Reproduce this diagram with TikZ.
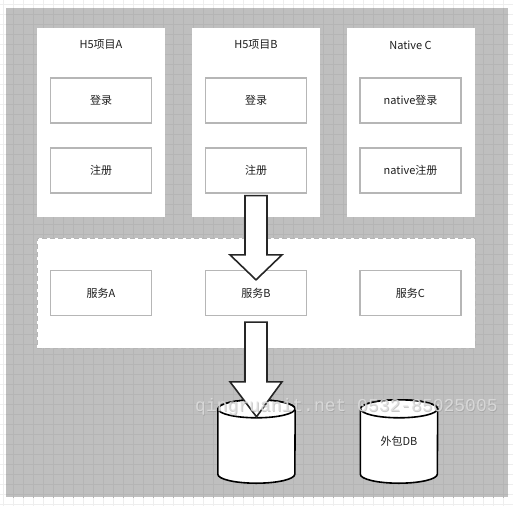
\documentclass[tikz,border=0pt]{standalone}
\usepackage{fontspec}
\setmainfont{Noto Sans CJK SC}
\newfontfamily\wmfont{Liberation Mono}
\usetikzlibrary{calc}
\definecolor{bggray}{RGB}{191,191,191}
\definecolor{gridlight}{RGB}{238,238,238}
\definecolor{griddark}{RGB}{181,181,181}
\definecolor{itemline}{RGB}{182,182,182}
\definecolor{txt}{RGB}{30,30,30}
\definecolor{wmlight}{RGB}{222,222,222}
\definecolor{wmshade}{RGB}{150,150,150}
\tikzset{
  projbox/.style={fill=white, draw=none, minimum width=128pt, minimum height=189pt, inner sep=0pt},
  projtitle/.style={font=\fontsize{11}{13}\selectfont, text=txt, inner sep=0pt},
  itembox/.style={fill=white, draw=itemline, line width=1.3pt, minimum width=101pt, minimum height=45pt, inner sep=0pt, font=\fontsize{11}{13}\selectfont, text=txt},
  svcarea/.style={fill=white, draw=itemline, line width=1pt, dash pattern=on 5pt off 3pt, minimum width=438pt, minimum height=110pt, inner sep=0pt},
  dbbox/.style={draw=none, minimum width=77pt, minimum height=83pt, inner sep=0pt, font=\fontsize{11}{13}\selectfont, text=txt},
  dbline/.style={draw=black, line width=1.6pt, fill=white},
  bigarrow/.style={fill=white, draw=black!85, line width=1.6pt, line join=miter},
  gridfine/.style={line width=0.4pt},
  wmtext/.style={anchor=west, inner sep=0pt, font=\wmfont\fontsize{18}{20}\selectfont},
}
\newcommand{\dbcylinder}[1]{%
  \path[dbline] ($(#1.north west)+(0,9)$) -- ($(#1.south west)+(0,-9)$)
    arc[start angle=180, end angle=360, x radius=38.5pt, y radius=9pt]
    -- ($(#1.north east)+(0,9)$)
    arc[start angle=0, end angle=180, x radius=38.5pt, y radius=9pt] -- cycle;
  \draw[dbline] ($(#1.north)+(0,9)$) ellipse[x radius=38.5pt, y radius=9pt];
}
\begin{document}
\begin{tikzpicture}[x=1pt, y=-1pt]
\useasboundingbox (0,0) rectangle (513,506);
\fill[white] (0,0) rectangle (513,506);
\foreach \i in {0,10,...,510} \draw[gridfine, gridlight] (\i+3,0) -- (\i+3,506);
\foreach \j in {0,10,...,500} \draw[gridfine, gridlight] (0,\j+4) -- (513,\j+4);
\fill[bggray] (6,8) rectangle (508,497);
\begin{scope}
\clip (6,8) rectangle (508,497);
\foreach \i in {0,10,...,510} \draw[gridfine, griddark] (\i+3,0) -- (\i+3,506);
\foreach \j in {0,10,...,500} \draw[gridfine, griddark] (0,\j+4) -- (513,\j+4);
\end{scope}

% project panels
\node[projbox] (pA) at (101,122.5) {};
\node[projbox] (pB) at (256,122.5) {};
\node[projbox] (pC) at (410.5,122.5) {};
\node[projtitle] (tA) at (101,45) {H5项目A};
\node[projtitle] (tB) at (256,45) {H5项目B};
\node[projtitle] (tC) at (410.5,45) {Native C};

\node[itembox] (loginA) at (101,100.5) {登录};
\node[itembox] (regA) at (101,170.5) {注册};
\node[itembox] (loginB) at (256,100.5) {登录};
\node[itembox] (regB) at (256,170.5) {注册};
\node[itembox] (loginC) at (410.5,100.5) {native登录};
\node[itembox] (regC) at (410.5,170.5) {native注册};

% service layer
\node[svcarea] (svc) at (256,293) {};
\node[itembox] (sA) at (101,293) {服务A};
\node[itembox] (sB) at (256,293) {服务B};
\node[itembox] (sC) at (410.5,293) {服务C};

% databases
\node[dbbox] (db1) at (256.5,441.5) {};
\node[dbbox] (db2) at (399,441.5) {};
\dbcylinder{db1}
\dbcylinder{db2}
\node[dbbox] (db2t) at (db2) {外包DB};

% block arrows
\coordinate (a1s) at ($(regB.south)+(0,2)$);
\coordinate (a1e) at ($(sB.north)+(0,10)$);
\coordinate (a2s) at ($(sB.south)+(0,6)$);
\coordinate (a2e) at ($(db1.north)+(0,17)$);
\draw[bigarrow] let \p1=(a1s), \p2=(a1e) in
  (\x1-11pt,\y1) -- (\x1+11pt,\y1) -- (\x1+11pt,\y2+25pt) -- (\x1+26pt,\y2+25pt)
  -- (\x2,\y2) -- (\x1-26pt,\y2+25pt) -- (\x1-11pt,\y2+25pt) -- cycle;
\draw[bigarrow] let \p1=(a2s), \p2=(a2e) in
  (\x1-11pt,\y1) -- (\x1+11pt,\y1) -- (\x1+11pt,\y2+35pt) -- (\x1+26pt,\y2+35pt)
  -- (\x2,\y2) -- (\x1-26pt,\y2+35pt) -- (\x1-11pt,\y2+35pt) -- cycle;

% watermark
\node[wmtext, text=wmshade, opacity=0.5] (wms) at (195.7,407.7) {qingruanit.net 0532-85025005};
\node[wmtext, text=wmlight, opacity=0.85] (wm) at (195,407) {qingruanit.net 0532-85025005};
\end{tikzpicture}
\end{document}
